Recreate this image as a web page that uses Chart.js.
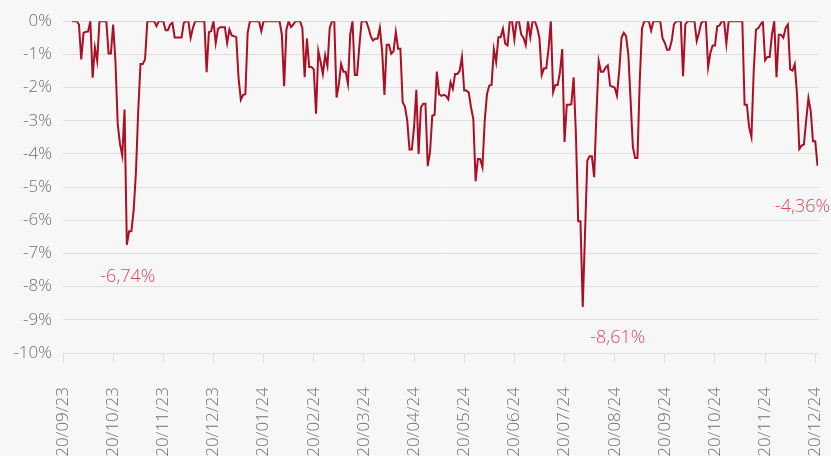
<!DOCTYPE html>
<html>
<head>
<meta charset="utf-8">
<script src="https://cdn.jsdelivr.net/npm/chart.js@4.4.1/dist/chart.umd.min.js"></script>
<style>
  html, body { margin: 0; padding: 0; background: #f7f7f7; overflow: hidden; }
  #wrap { width: 831px; height: 480px; position: relative; }
</style>
</head>
<body>
<div id="wrap"><canvas id="chart"></canvas></div>
<script>
// tick labels, one every 22 trading days
const tickLabels = ['20/09/23','20/10/23','20/11/23','20/12/23','20/01/24','20/02/24','20/03/24','20/04/24',
    '20/05/24','20/06/24','20/07/24','20/08/24','20/09/24','20/10/24','20/11/24','20/12/24'];
const daysPerTick = 22;
const firstDay = 4; // series starts 4 trading days after the first tick

// drawdown in %, one value per trading day
const drawdown = [
    0, 0, 0, -0.1, -1.15, -0.35, -0.32, -0.31, 0, -1.7,
    -0.8, -1.2, 0, 0, 0, 0, -0.97, -0.97, -0.1, -1.2,
    -3.1, -3.7, -4.05, -2.66, -6.74, -6.33, -6.33, -5.7, -4.55, -2.7,
    -1.29, -1.29, -1.15, 0, 0, 0, 0, -0.15, 0, 0,
    0, -0.27, -0.27, -0.1, -0.05, -0.49, -0.49, -0.49, -0.49, -0.05,
    0, 0, -0.5, -0.2, 0, 0, 0, 0, 0, -1.54,
    -0.33, -0.3, 0, -0.66, -0.23, -0.18, -0.18, -0.18, -0.66, -0.25,
    -0.43, -0.45, -0.48, -1.7, -2.37, -2.22, -2.2, -0.35, 0, 0,
    0, 0, 0, -0.3, 0, 0, 0, 0, 0, 0,
    0, 0, -0.4, -1.96, -0.25, 0, -0.18, -0.1, 0, 0,
    0, -0.2, -1.69, -0.52, -1.38, -1.38, -1.45, -2.79, -0.9, -1.23,
    -1.59, -1.03, -1.35, -0.2, 0, 0, -2.3, -1.9, -1.29, -1.52,
    -1.52, -1.89, -0.4, 0, -1.62, -1.62, -0.75, 0, 0, 0,
    -0.2, -0.45, -0.58, -0.53, -0.53, -0.2, -0.9, -2.22, -0.71, -0.71,
    -0.98, -0.91, -0.33, -0.83, -0.83, -2.44, -2.57, -2.99, -3.87, -3.87,
    -3.2, -2.07, -4.0, -2.6, -2.49, -2.49, -4.37, -3.95, -2.85, -2.82,
    -1.52, -2.2, -2.25, -2.22, -2.25, -2.35, -1.84, -2.04, -1.59, -1.59,
    -1.5, -1.08, -2.09, -2.09, -2.15, -2.6, -2.95, -4.82, -4.15, -4.15,
    -4.4, -3.0, -2.19, -1.94, -1.92, -0.85, -1.23, -0.48, -0.48, -0.23,
    -0.68, -0.73, 0, 0, -0.55, 0, 0, -0.4, -0.5, -0.72,
    0, -0.48, 0, 0, -0.2, -0.5, -1.62, -1.42, -1.42, -0.83,
    0, -2.14, -1.92, -1.92, -1.54, -0.84, -3.64, -2.52, -2.52, -2.5,
    -1.69, -3.4, -6.03, -6.03, -8.61, -6.4, -4.2, -4.07, -4.07, -4.7,
    -2.8, -1.2, -1.52, -1.52, -1.4, -1.33, -1.94, -1.97, -2.0, -2.24,
    -1.5, -0.5, -0.35, -0.45, -1.0, -2.4, -3.8, -4.12, -4.12, -1.8,
    -0.22, 0, 0, 0, -0.28, 0, 0, 0, 0, -0.51,
    -0.65, -0.86, -0.86, -0.6, -0.1, 0, 0, 0, -1.66, -0.1,
    0, 0, 0, 0, -0.6, -0.35, -0.05, 0, 0, -1.39,
    -0.95, -0.73, -0.73, -0.15, -0.13, 0, 0, -0.68, 0, 0,
    0, 0, 0, 0, 0, -2.52, -2.52, -3.2, -3.49, -1.5,
    -0.25, -0.21, -0.1, 0, -1.18, -1.08, -1.08, -0.4, 0, -1.69,
    -0.41, -0.41, -0.5, -0.2, -0.1, -1.45, -1.49, -1.3, -2.2, -3.85,
    -3.75, -3.72, -3.0, -2.32, -2.7, -3.62, -3.62, -4.36
];

// labelled points: index in drawdown, text offset from the point (px)
const callouts = [
    { index: 24, dx: 1, dy: 37 },
    { index: 224, dx: 35, dy: 36 },
    { index: drawdown.length - 1, dx: -15, dy: 46 }
];

const fontFamily = '"Open Sans", "Noto Sans", sans-serif';
const lineColor = '#aa0f23';
const calloutColor = '#d14d5c';
const gridColor = '#dedede';
const tickColor = '#707070';

const calloutPlugin = {
    id: 'callouts',
    afterDatasetsDraw(chart){
        const ctx = chart.ctx;
        const xs = chart.scales.x, ys = chart.scales.y;
        ctx.save();
        ctx.font = '300 18px ' + fontFamily;
        ctx.fillStyle = calloutColor;
        ctx.textAlign = 'center';
        ctx.textBaseline = 'alphabetic';
        callouts.forEach(c=>{
            const v = drawdown[c.index];
            const px = xs.getPixelForValue(c.index + firstDay);
            const py = ys.getPixelForValue(v);
            ctx.fillText(v.toFixed(2).replace('.', ',') + '%', px + c.dx, py + c.dy);
        });
        ctx.restore();
    }
};

const points = drawdown.map((v, i)=>({ x: i + firstDay, y: v }));

new Chart(document.getElementById('chart'), {
    type: 'line',
    data: { datasets: [{ data: points, borderColor: lineColor, borderWidth: 2, pointRadius: 0, tension: 0, fill: false }] },
    options: {
        responsive: true,
        maintainAspectRatio: false,
        animation: false,
        layout: { padding: { top: 21, right: 13, left: 0, bottom: 0 } },
        plugins: { legend: { display: false }, tooltip: { enabled: false } },
        scales: {
            x: {
                type: 'linear',
                min: 0,
                max: 331.2,
                afterBuildTicks: s => { s.ticks = tickLabels.map((_, k)=>({ value: k * daysPerTick })); },
                afterFit: s => { s.height = 127; s.paddingLeft = 0; s.paddingRight = 0; },
                border: { display: false },
                grid: { drawOnChartArea: false, drawTicks: true, tickLength: 10, color: gridColor },
                ticks: {
                    autoSkip: false, maxRotation: 90, minRotation: 90, padding: 24,
                    color: tickColor, font: { family: fontFamily, size: 17, weight: 300 },
                    callback: (v, i)=>tickLabels[i]
                }
            },
            y: {
                min: -10,
                max: 0,
                afterFit: s => { s.width = 63; },
                border: { display: false },
                grid: { color: gridColor, drawTicks: false },
                ticks: {
                    stepSize: 1, padding: 11,
                    color: tickColor, font: { family: fontFamily, size: 17, weight: 300 },
                    callback: v => v + '%'
                }
            }
        }
    },
    plugins: [calloutPlugin]
});
</script>
</body>
</html>
